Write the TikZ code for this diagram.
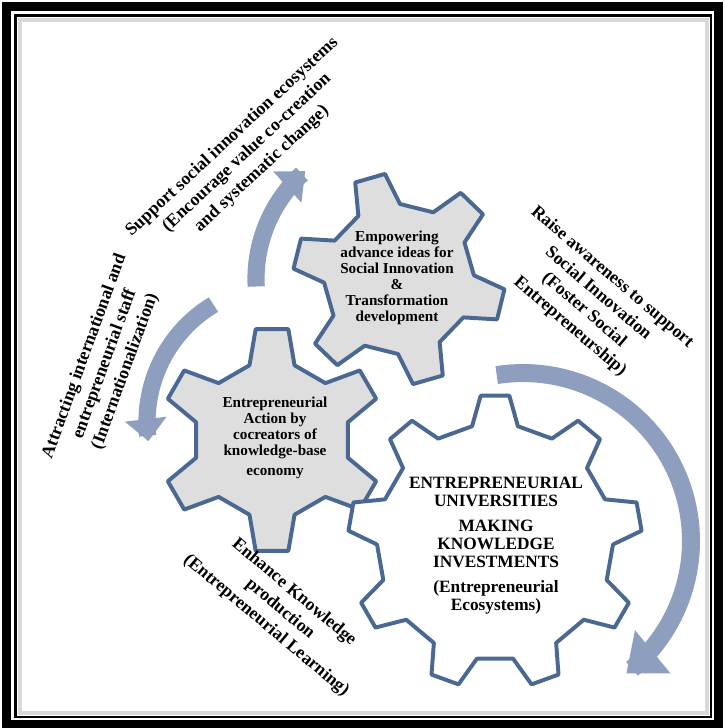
\documentclass[tikz,border=0pt]{standalone}
\usepackage{fontspec}
\setmainfont{Liberation Serif}
\usetikzlibrary{arrows.meta}
\definecolor{cogblue}{RGB}{74,104,146}
\definecolor{cogfill}{RGB}{222,222,222}
\definecolor{arcblue}{RGB}{141,158,191}

% #1 centre, #2 tip radius, #3 root radius, #4 teeth, #5 first tooth, #6 fill
\newcommand{\cogwheel}[6]{%
  \pgfmathsetmacro{\cogpitch}{360/#4}%
  \pgfmathsetmacro{\cogbase}{0.28*\cogpitch}%
  \pgfmathsetmacro{\cogtip}{0.14*\cogpitch}%
  \draw[cog, fill=#6, shift={#1}] ({#5-\cogbase}:#3)
    \foreach \k in {1,...,#4}{
      -- ({#5+(\k-1)*\cogpitch-\cogtip}:#2)
      -- ({#5+(\k-1)*\cogpitch+\cogtip}:#2)
      -- ({#5+(\k-1)*\cogpitch+\cogbase}:#3)
      -- ({#5+\k*\cogpitch-\cogbase}:#3)
    } -- cycle;}

\begin{document}
\begin{tikzpicture}[x=0.025cm, y=-0.025cm,
  cog/.style={draw=cogblue, line width=2.8pt, line join=round},
  flow/.style={draw=arcblue, line width=0.43cm},
  geartext/.style={font=\fontsize{10.8}{11.3}\selectfont\bfseries,
                   align=center, text=black},
  hubtext/.style={font=\fontsize{12.3}{12.8}\selectfont\bfseries,
                  align=center, text=black},
  sidetext/.style={font=\fontsize{12.7}{15.4}\selectfont\bfseries,
                   align=center, text=black}
]
\useasboundingbox (0,0) rectangle (724,728);
% frame
\draw[line width=0.225cm] (6.5,6.5) rectangle (718,724);
\draw[line width=0.065cm] (15.5,15.5) rectangle (711,717);
\draw[black!15, line width=0.1cm] (20,20) rectangle (706.5,712.5);

\coordinate (topc) at (399,279);
\coordinate (leftc) at (272,440);
\coordinate (hubc) at (495,542);

% turning arrows
\draw[flow, -{Triangle[width=1.05cm, length=0.6cm, line width=0pt, fill=arcblue]}]
  plot[domain=177:229, samples=30] ({399+143*cos(\x)}, {279+143*sin(\x)});
\draw[flow, -{Triangle[width=1.05cm, length=0.55cm, line width=0pt, fill=arcblue]}]
  plot[domain=239:172, samples=30] ({284+137*cos(\x)}, {422+137*sin(\x)});
\draw[flow, line width=0.45cm,
  -{Triangle[width=1.4cm, length=0.85cm, line width=0pt, fill=arcblue]}]
  plot[domain=261:412, samples=60] ({523+168*cos(\x)}, {541+168*sin(\x)});

% gears
\cogwheel{(topc)}{106}{75}{6}{14}{cogfill}
\cogwheel{(leftc)}{112}{78}{6}{30}{cogfill}
\cogwheel{(hubc)}{147}{118}{9}{270}{white}

\node[geartext] (empower) at (397,278) {Empowering\\advance ideas for\\
  Social Innovation\\\&\\Transformation\\development};
\node[geartext] (action) at (275,438) {Entrepreneurial\\Action by\\
  cocreators of\\knowledge-base\\[3.5pt]economy};
\node[hubtext] (university) at (496,546) {ENTREPRENEURIAL\\UNIVERSITIES\\[5pt]
  MAKING\\KNOWLEDGE\\INVESTMENTS\\[5pt](Entrepreneurial\\Ecosystems)};

\node[sidetext, rotate=43] (support) at (247,153)
  {Support social innovation ecosystems\\(Encourage value co-creation\\
   and systematic change)};
\node[sidetext, rotate=-40.5] (raise) at (591,302)
  {Raise awareness to support\\Social Innovation\\(Foster Social\\
   Entrepreneurship)};
\node[sidetext, rotate=70] (attract) at (105,364)
  {Attracting international and\\entrepreneurial staff\\(Internationalization)};
\node[sidetext, rotate=-40] (enhance) at (280,609)
  {Enhance Knowledge\\production\\(Entrepreneurial Learning)};
\end{tikzpicture}
\end{document}
